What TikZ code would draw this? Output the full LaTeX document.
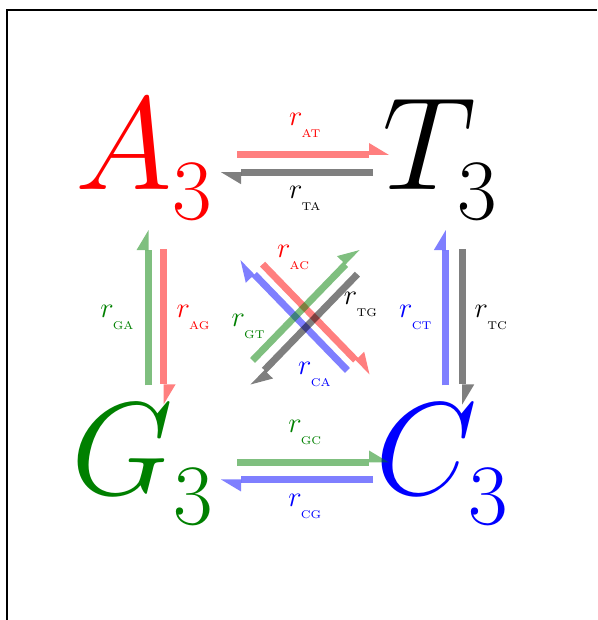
\RequirePackage{fix-cm}
\documentclass[tikz,border=0pt]{standalone}
\usepackage{graphicx}
\usetikzlibrary{arrows.meta}

\newcommand{\base}[1]{$#1_{\raisebox{-10pt}{\fontsize{86}{86}\selectfont 3}}$}
\newcommand{\rt}[1]{$r_{\raisebox{-7.7pt}{\scalebox{1.87}{\fontsize{6}{7}\selectfont #1}}}$}

\begin{document}
\begin{tikzpicture}[x=1pt, y=1pt,
  letter/.style={inner sep=0pt, anchor=base west, font=\fontsize{132}{132}\selectfont},
  lbl/.style={inner sep=0pt, opacity=1, font=\fontsize{28.5}{30}\selectfont},
  flux/.style={line width=7pt, opacity=.5, -{Triangle[left, length=20pt, width=24pt, line width=0pt]}}]
  \useasboundingbox (0,0) rectangle (597,620);
  \draw[line width=2pt] (6.5,0) -- (6.5,610) -- (597,610);

  % corners of the square
  \coordinate (a) at (156,456.4);
  \coordinate (t) at (454,456.4);
  \coordinate (g) at (156,149);
  \coordinate (c) at (454,149);

  \node[letter, text=red] (A) at (75.4,430) {\base{A}};
  \node[letter] (T) at (382,430) {\base{T}};
  \node[letter, text=green!50!black] (G) at (71.4,125) {\base{G}};
  \node[letter, text=blue] (C) at (375.4,125) {\base{C}};

  % horizontal
  \draw[flux, red, transform canvas={yshift=8.6pt}, shorten <=81pt, shorten >=65pt] (a) -- node[lbl, above=14pt, text=red] {\rt{AT}} (t);
  \draw[flux, black, transform canvas={yshift=-8.6pt}, shorten <=81pt, shorten >=65pt] (t) -- node[lbl, below=10.8pt] {\rt{TA}} (a);
  \draw[flux, green!50!black, transform canvas={yshift=8.5pt}, shorten <=81pt, shorten >=65pt] (g) -- node[lbl, above=14.5pt, text=green!50!black] {\rt{GC}} (c);
  \draw[flux, blue, transform canvas={yshift=-8.5pt}, shorten <=81pt, shorten >=65pt] (c) -- node[lbl, below=10.8pt, text=blue] {\rt{CG}} (g);

  % vertical
  \draw[flux, green!50!black, transform canvas={xshift=-7.5pt}, shorten <=85.5pt, shorten >=66.5pt] (g) -- node[lbl, left=11pt, text=green!50!black] {\rt{GA}} (a);
  \draw[flux, red, transform canvas={xshift=7.5pt}, shorten <=85.5pt, shorten >=66.5pt] (a) -- node[lbl, right=9.5pt, text=red] {\rt{AG}} (g);
  \draw[flux, blue, transform canvas={xshift=-8.2pt}, shorten <=85.5pt, shorten >=66.5pt] (c) -- node[lbl, left=10.5pt, text=blue] {\rt{CT}} (t);
  \draw[flux, black, transform canvas={xshift=8.2pt}, shorten <=85.5pt, shorten >=66.5pt] (t) -- node[lbl, right=9pt] {\rt{TC}} (c);

  % diagonals
  \draw[flux, red, transform canvas={shift={(4.6,4.6)}}, shorten <=146.5pt, shorten >=128pt] (a) -- node[lbl, pos=.385, shift={(18,20)}, text=red] {\rt{AC}} (c);
  \draw[flux, blue, transform canvas={shift={(-4.6,-4.6)}}, shorten <=146.5pt, shorten >=128pt] (c) -- node[lbl, pos=.385, shift={(-20,-17)}, text=blue] {\rt{CA}} (a);
  \draw[flux, green!50!black, transform canvas={shift={(-5.4,5.4)}}, shorten <=146.5pt, shorten >=128pt] (g) -- node[lbl, pos=.385, shift={(-17,21)}, text=green!50!black] {\rt{GT}} (t);
  \draw[flux, black, transform canvas={shift={(5.4,-5.4)}}, shorten <=146.5pt, shorten >=128pt] (t) -- node[lbl, pos=.385, shift={(16,-17)}] {\rt{TG}} (g);
\end{tikzpicture}
\end{document}
